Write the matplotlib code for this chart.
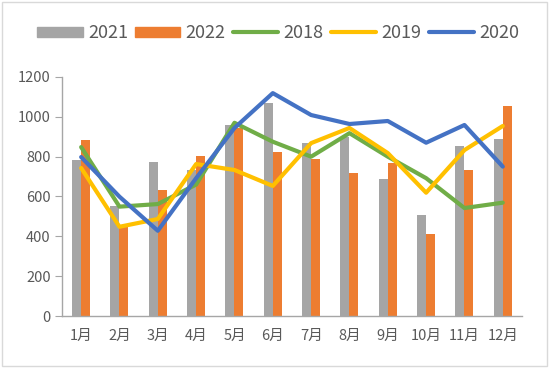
import numpy as np
import matplotlib.pyplot as plt
from matplotlib.patches import Patch, Rectangle
from matplotlib.lines import Line2D

plt.rcParams['font.family'] = ['Noto Sans CJK SC', 'DejaVu Sans']

months = ['1月', '2月', '3月', '4月', '5月', '6月', '7月', '8月', '9月', '10月', '11月', '12月']
bars_2021 = [783, 552, 775, 735, 959, 1071, 868, 900, 688, 507, 853, 888]
bars_2022 = [884, 445, 632, 805, 944, 823, 788, 718, 768, 412, 733, 1054]
line_2018 = [848, 549, 562, 660, 970, 875, 800, 918, 800, 692, 542, 569]
line_2019 = [743, 448, 487, 763, 733, 653, 868, 944, 818, 619, 833, 954]
line_2020 = [798, 599, 428, 692, 944, 1119, 1009, 964, 979, 870, 959, 750]

c_gray = '#A5A5A5'
c_orange = '#ED7D31'
c_green = '#70AD47'
c_yellow = '#FFC000'
c_blue = '#4472C4'
txt = '#595959'

fig = plt.figure(figsize=(5.5, 3.68), dpi=100)
ax = fig.add_axes([0.1127, 0.1413, 0.8363, 0.6495])

x = np.arange(len(months))
w = 0.235
ax.bar(x - w / 2, bars_2021, width=w, color=c_gray, zorder=2)
ax.bar(x + w / 2, bars_2022, width=w, color=c_orange, zorder=2)
lw = 3.0
ax.plot(x, line_2018, color=c_green, lw=lw, solid_capstyle='round', solid_joinstyle='round', zorder=3)
ax.plot(x, line_2019, color=c_yellow, lw=lw, solid_capstyle='round', solid_joinstyle='round', zorder=4)
ax.plot(x, line_2020, color=c_blue, lw=lw, solid_capstyle='round', solid_joinstyle='round', zorder=5)

ax.set_xlim(-0.5, len(months) - 0.5)
ax.set_ylim(0, 1200)
ax.set_yticks(range(0, 1201, 200))
ax.set_xticks(x)
ax.set_xticklabels(months)
for s in ['top', 'right']:
    ax.spines[s].set_visible(False)
for s in ['left', 'bottom']:
    ax.spines[s].set_color('#A6A6A6')
    ax.spines[s].set_linewidth(1.0)
ax.tick_params(axis='y', colors='#A6A6A6', labelcolor=txt, labelsize=10.5, length=5, pad=3, direction='out')
ax.tick_params(axis='x', length=0, labelcolor=txt, labelsize=10.5, pad=9)

handles = [
    Patch(color=c_gray, label='2021'),
    Patch(color=c_orange, label='2022'),
    Line2D([], [], color=c_green, lw=lw, solid_capstyle='round', label='2018'),
    Line2D([], [], color=c_yellow, lw=lw, solid_capstyle='round', label='2019'),
    Line2D([], [], color=c_blue, lw=lw, solid_capstyle='round', label='2020'),
]
leg = fig.legend(handles=handles, loc='center', bbox_to_anchor=(0.506, 0.91), ncol=5,
                 frameon=False, fontsize=13, handlelength=2.5, handleheight=0.45,
                 handletextpad=0.3, columnspacing=0.4, labelcolor=txt)

fig.patches.append(Rectangle((0.004, 0.006), 0.99, 0.988, transform=fig.transFigure,
                             fill=False, edgecolor='#D9D9D9', lw=1.0))

fig.savefig('out.png', dpi=100)
